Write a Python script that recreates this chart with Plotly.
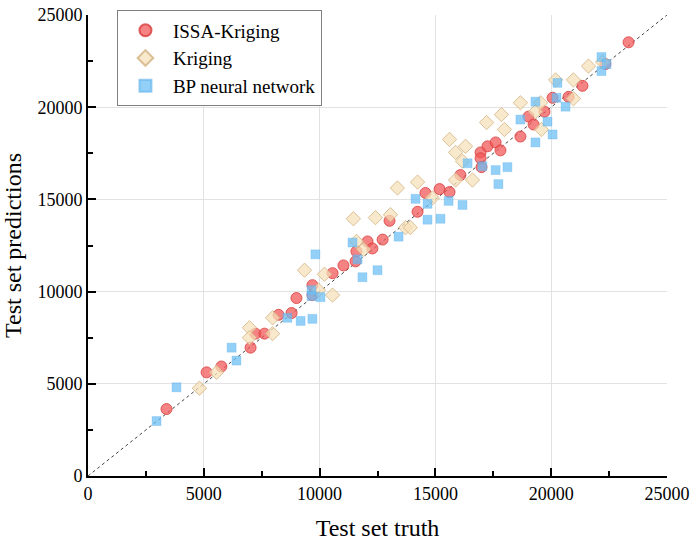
import plotly.graph_objects as go

# ISSA-Kriging (truth, prediction)
issa_x = [3390, 5120, 5760, 7020, 7230, 7620, 8230, 8790, 9000, 9690, 9690, 10560, 11030, 11550,
          11590, 12070, 12280, 12720, 13020, 14230, 14570, 15180, 15610, 16080, 16950, 16950, 16990,
          17250, 17600, 17810, 18670, 19020, 19240, 19710, 20060, 20750, 21350, 22340, 23340]
issa_y = [3630, 5620, 5940, 6960, 7720, 7720, 8740, 8840, 9650, 10350, 9810, 11000, 11420, 11640,
          12180, 12720, 12340, 12820, 13840, 14330, 15350, 15560, 15400, 16320, 17550, 17230, 16750,
          17880, 18090, 17660, 18410, 19490, 19060, 19760, 20510, 20560, 21160, 22340, 23520]

# Kriging
krig_x = [4810, 5550, 6970, 6970, 7970, 7970, 9350, 10210, 9950, 10560, 11460, 12410, 11590, 11900,
          13060, 13360, 14230, 13710, 13920, 14870, 15610, 15870, 16300, 16170, 15870, 16600, 17210,
          17850, 17980, 18670, 19320, 19540, 19580, 20190, 20960, 20960, 21610, 22220]
krig_y = [4760, 5620, 8040, 7500, 8580, 7720, 11160, 10940, 10080, 9810, 13950, 14010, 12720, 12290,
          14170, 15620, 15940, 13470, 13470, 15080, 18250, 17550, 17880, 17070, 16050, 16050, 19170,
          19600, 18790, 20240, 19760, 20240, 18790, 21480, 21480, 20460, 22230, 22450]

# BP neural network
bp_x = [2960, 3820, 6200, 6410, 8610, 9180, 9690, 9820, 9650, 9650, 10040, 11420, 11640, 11850,
        12500, 13410, 14140, 14660, 14660, 15220, 15570, 16170, 16390, 17030, 17600, 18110, 17720,
        18670, 19320, 19320, 19840, 20060, 20270, 20230, 20620, 22170, 22390, 22170]
bp_y = [2980, 4810, 6960, 6260, 8580, 8410, 8520, 12020, 10080, 9760, 9700, 12660, 11750, 10780,
        11160, 12980, 15030, 14760, 13900, 13950, 14920, 14700, 16960, 16800, 16590, 16750, 15830,
        19330, 20300, 18090, 19220, 18520, 21320, 20510, 20030, 22720, 22340, 21960]

diag = [0, 25000]

FONT = "Liberation Serif"

fig = go.Figure()
fig.add_trace(go.Scatter(x=diag, y=diag, mode="lines", showlegend=False, hoverinfo="skip",
                         line=dict(color="#444444", width=1, dash="3px,3px")))
fig.add_trace(go.Scatter(x=issa_x, y=issa_y, mode="markers", name="ISSA-Kriging",
                         marker=dict(symbol="circle", size=11, color="rgba(242,88,88,0.74)",
                                     line=dict(color="rgba(218,60,60,0.8)", width=1))))
fig.add_trace(go.Scatter(x=krig_x, y=krig_y, mode="markers", name="Kriging",
                         marker=dict(symbol="diamond", size=11, color="rgba(246,224,184,0.72)",
                                     line=dict(color="rgba(212,182,135,0.85)", width=1))))
fig.add_trace(go.Scatter(x=bp_x, y=bp_y, mode="markers", name="BP neural network",
                         marker=dict(symbol="square", size=9, color="rgba(105,190,245,0.72)",
                                     line=dict(color="rgba(90,175,235,0.6)", width=0.5))))

axis_common = dict(
    range=[0, 25000], dtick=5000, tick0=0, tickformat="d", automargin=False,
    showline=True, linewidth=2, linecolor="black", mirror=False,
    ticks="inside", ticklen=8, tickwidth=2, tickcolor="black",
    minor=dict(ticks="inside", ticklen=5, tickwidth=1.5, tickcolor="black", dtick=2500, showgrid=False),
    showgrid=True, gridcolor="#e2e2e2", gridwidth=1,
    zeroline=False,
    tickfont=dict(family=FONT, size=18, color="black"),
)

fig.update_layout(
    width=693, height=541,
    margin=dict(l=88, r=26, t=10, b=65),
    paper_bgcolor="white", plot_bgcolor="white",
    font=dict(family=FONT, color="black"),
    xaxis=dict(**axis_common, title=dict(text="Test set truth", font=dict(family=FONT, size=24), standoff=18)),
    yaxis=dict(**axis_common, title=dict(text="Test set predictions", font=dict(family=FONT, size=24), standoff=14)),
    legend=dict(x=0.05, y=1.01, xanchor="left", yanchor="top",
                bordercolor="#808080", borderwidth=1, bgcolor="white",
                font=dict(family=FONT, size=19, color="black"),
                itemsizing="constant", itemwidth=45, tracegroupgap=0),
    showlegend=True,
)

fig.write_html("out.html")
